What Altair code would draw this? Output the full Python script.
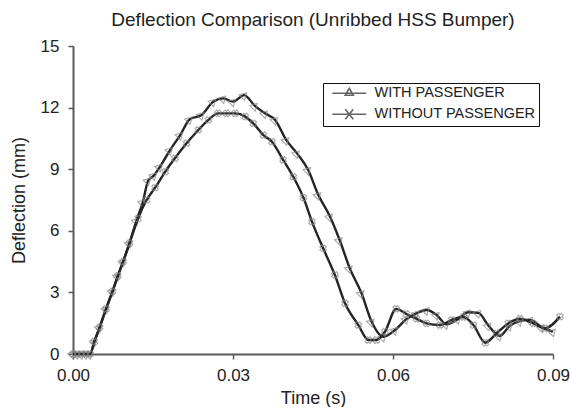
import altair as alt
import pandas as pd

# ---- data ----
with_t = [0.0, 0.0008, 0.0016, 0.0024, 0.0032, 0.0040, 0.0050, 0.0062, 0.0074, 0.0084,
          0.0094, 0.0106, 0.0119, 0.0131, 0.0141, 0.0152, 0.0163, 0.0182, 0.0201, 0.0219,
          0.0241, 0.0263, 0.0282, 0.0300, 0.0321, 0.0341, 0.0360, 0.0379, 0.0400, 0.0420,
          0.0441, 0.0460, 0.0482, 0.0500, 0.0519, 0.0541, 0.0560, 0.0582, 0.0604, 0.0625,
          0.0644, 0.0663, 0.0682, 0.0700, 0.0722, 0.0741, 0.0760, 0.0779, 0.0800, 0.0819,
          0.0838, 0.0857, 0.0879, 0.0900]
with_y = [0, 0, 0, 0, 0, 0.6, 1.3, 2.2, 3.05, 3.8,
          4.5, 5.4, 6.5, 7.4, 8.45, 8.7, 9.12, 9.93, 10.66, 11.43,
          11.64, 12.29, 12.45, 12.29, 12.61, 12.08, 11.72, 11.4, 10.42, 9.77,
          8.96, 7.74, 6.69, 5.55, 4.17, 2.96, 1.57, 0.84, 1.17, 1.7,
          1.98, 2.14, 1.9, 1.45, 1.7, 2.03, 2.0, 1.38, 0.88, 1.37,
          1.6, 1.66, 1.3, 1.09]

without_t = [0.0, 0.0008, 0.0016, 0.0024, 0.0032, 0.0040, 0.0050, 0.0062, 0.0074, 0.0084,
             0.0094, 0.0106, 0.0122, 0.0138, 0.0154, 0.0173, 0.0191, 0.0213, 0.0235, 0.0254,
             0.0272, 0.0288, 0.0304, 0.0323, 0.0338, 0.0357, 0.0373, 0.0394, 0.0413, 0.0432,
             0.0448, 0.0469, 0.0491, 0.0510, 0.0535, 0.0554, 0.0569, 0.0585, 0.0606, 0.0625,
             0.0644, 0.0663, 0.0688, 0.0710, 0.0732, 0.0751, 0.0773, 0.0794, 0.0816, 0.0838,
             0.0863, 0.0885, 0.0913]
without_y = [0, 0, 0, 0, 0, 0.6, 1.3, 2.2, 3.05, 3.8,
             4.5, 5.4, 6.6, 7.5, 8.1, 8.88, 9.53, 10.26, 10.91, 11.4,
             11.72, 11.72, 11.72, 11.56, 11.23, 10.66, 10.34, 9.45, 8.63, 7.62,
             6.45, 5.15, 3.85, 2.47, 1.41, 0.68, 0.68, 1.09, 2.2, 1.95,
             1.72, 1.49, 1.41, 1.66, 1.8, 1.4, 0.55, 1.0, 1.49, 1.72,
             1.49, 1.25, 1.82]

series_names = ["WITH PASSENGER", "WITHOUT PASSENGER"]
x_ticks = [0.0, 0.03, 0.06, 0.09]
y_ticks = [0, 3, 6, 9, 12, 15]

df = pd.concat([
    pd.DataFrame({"t": with_t, "y": with_y, "series": series_names[0]}),
    pd.DataFrame({"t": without_t, "y": without_y, "series": series_names[1]}),
], ignore_index=True)

FONT = "Liberation Sans"
LINE = "#252525"
MARK = "#858585"
AXIS = "#5a5a5a"

axis_style = dict(domain=True, ticks=True, domainColor=AXIS, domainWidth=2,
                  tickColor=AXIS, tickWidth=1.5, tickSize=5, grid=False,
                  labelFlush=False)

x_enc = alt.X("t:Q", scale=alt.Scale(domain=[0, 0.09], nice=False),
              axis=alt.Axis(values=x_ticks, format=".2f", title="Time (s)",
                            labelPadding=8, titlePadding=6, **axis_style))
y_enc = alt.Y("y:Q", scale=alt.Scale(domain=[0, 15], nice=False),
              axis=alt.Axis(values=y_ticks, title="Deflection (mm)",
                            labelPadding=9, titlePadding=12, **axis_style))

base = alt.Chart(df)

def layer_for(name, shape, size):
    d = base.transform_filter(alt.datum.series == name)
    line = d.mark_line(color=LINE, strokeWidth=2.4, interpolate="monotone").encode(
        x=x_enc, y=y_enc)
    pts = d.mark_point(shape=shape, filled=False, color=MARK, strokeWidth=1.1,
                       size=size).encode(x=x_enc, y=y_enc)
    return [line, pts]

legend_paths = [
    "M-3.4,0L3.4,0M-0.8,0.4L0,-1.0L0.8,0.4Z",
    "M-3.4,0L3.4,0M-0.8,-1L0.8,1M-0.8,1L0.8,-1",
]

legend_layer = base.transform_filter("datum.t < 0").mark_point(filled=False, color=LINE).encode(
    x=x_enc, y=y_enc,
    shape=alt.Shape("series:N",
                    scale=alt.Scale(domain=series_names, range=legend_paths),
                    legend=alt.Legend(
                        title=None, orient="none", legendX=250, legendY=37,
                        strokeColor="#111111", padding=3, rowPadding=6,
                        labelFont=FONT, labelFontSize=14.5, labelColor="#222222",
                        labelLimit=400,
                        symbolSize=100, symbolOffset=16, labelOffset=18,
                        symbolStrokeColor=LINE, symbolStrokeWidth=1.6,
                        symbolFillColor="transparent")),
)

layers = (layer_for(series_names[0], "triangle-up", 60)
          + layer_for(series_names[1], "cross", 45)
          + [legend_layer])

chart = alt.layer(*layers).properties(
    width=480, height=308,
    title=alt.TitleParams("Deflection Comparison (Unribbed HSS Bumper)",
                          font=FONT, fontSize=19, fontWeight="normal",
                          color="#222222", anchor="middle", offset=7),
    padding={"left": 10, "top": 11, "right": 0, "bottom": 0},
).configure_view(stroke=None).configure_axis(
    labelFont=FONT, labelFontSize=17, labelColor="#222222",
    titleFont=FONT, titleFontSize=18, titleFontWeight="normal", titleColor="#222222",
).configure_point(angle=45)

chart.save("out.html", embed_options={"renderer": "svg", "actions": False})
